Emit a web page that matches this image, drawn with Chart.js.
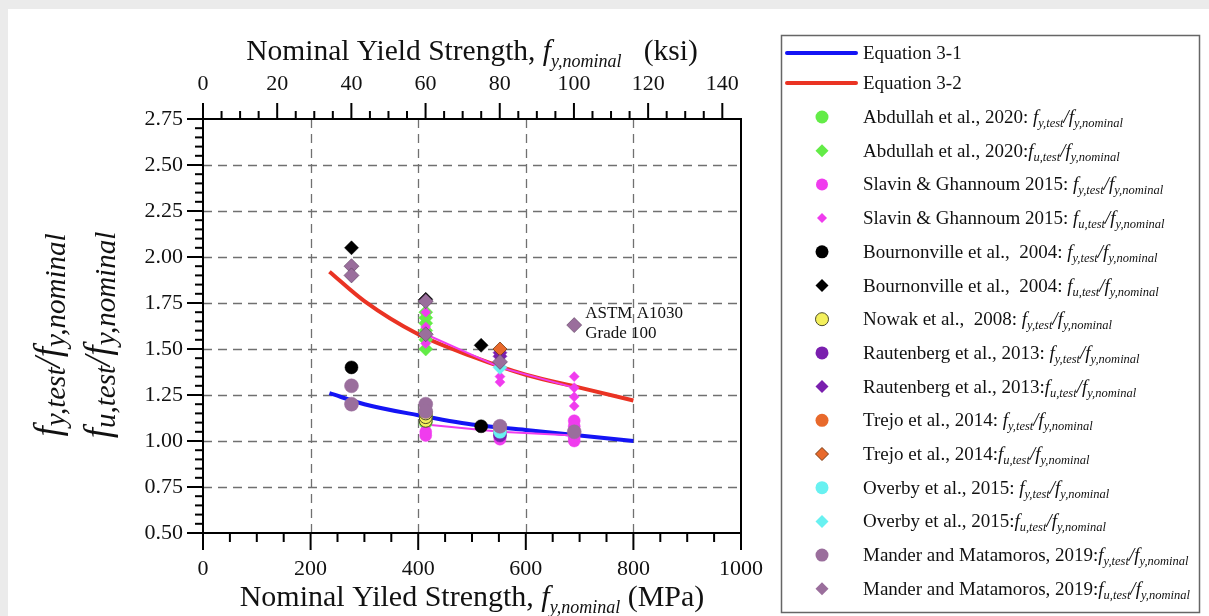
<!DOCTYPE html>
<html><head><meta charset="utf-8">
<script src="https://cdn.jsdelivr.net/npm/chart.js@4/dist/chart.umd.min.js"></script>
<style>html,body{margin:0;padding:0;background:#fff;overflow:hidden}#wrap{position:relative;width:1209px;height:616px}</style>
</head><body><div id="wrap"><canvas id="c" width="1209" height="616"></canvas></div>
<script>
// ---------- data ----------
const eqX   = [235, 300, 400, 500, 600, 700, 800];
const eq31  = [1.26, 1.20, 1.14, 1.09, 1.06, 1.03, 1.00];
const eq32  = [1.92, 1.76, 1.58, 1.46, 1.36, 1.29, 1.22];

const abdullahFyX = [414, 414, 414];
const abdullahFyY = [1.10, 1.13, 1.16];
const abdullahFuX = [414, 414, 414, 414, 414, 414];
const abdullahFuY = [1.50, 1.55, 1.60, 1.64, 1.67, 1.70];

const slavinFyX = [414, 414, 552, 552, 690, 690, 690, 690];
const slavinFyY = [1.03, 1.05, 1.01, 1.02, 1.11, 1.08, 1.02, 1.00];
const slavinFuX = [414, 414, 414, 552, 552, 552, 690, 690, 690, 690];
const slavinFuY = [1.53, 1.62, 1.70, 1.40, 1.35, 1.32, 1.35, 1.29, 1.24, 1.19];
const slavinTrendX  = [414, 552, 690];
const slavinFyTrend = [1.09, 1.05, 1.03];
const slavinFuTrend = [1.58, 1.40, 1.29];

const bournFyX = [276, 517];
const bournFyY = [1.40, 1.08];
const bournFuX = [276, 517, 414];
const bournFuY = [2.05, 1.52, 1.77];

const nowakFyX = [414, 414, 414];
const nowakFyY = [1.11, 1.13, 1.15];

const rautFyX = [552, 552];
const rautFyY = [1.03, 1.04];
const rautFuX = [552, 552];
const rautFuY = [1.48, 1.46];

const trejoFyX = [552];
const trejoFyY = [1.06];
const trejoFuX = [552];
const trejoFuY = [1.50];

const overbyFyX = [552];
const overbyFyY = [1.05];
const overbyFuX = [552];
const overbyFuY = [1.40];

const manderFyX = [276, 276, 414, 414, 552, 690];
const manderFyY = [1.30, 1.20, 1.20, 1.16, 1.08, 1.05];
const manderFuX = [276, 276, 414, 414, 552, 690];
const manderFuY = [1.95, 1.90, 1.76, 1.58, 1.43, 1.63];

const mpaTicks = [0, 200, 400, 600, 800, 1000];
const ksiTicks = [0, 20, 40, 60, 80, 100, 120, 140];
const ratioTicks = [0.50, 0.75, 1.00, 1.25, 1.50, 1.75, 2.00, 2.25, 2.50, 2.75];
const MPA_PER_KSI = 6.89476;

// ---------- helpers ----------
const SERIF = '"Liberation Serif","Times New Roman",serif';
const zip = (xs, ys) => xs.map((x, i) => ({x: x, y: ys[i]}));

function pts(label, sub, xs, ys, color, style, r, idx, opts) {
  return Object.assign({
    label: label, legendName: label, legendSub: sub,
    data: zip(xs, ys), backgroundColor: color, borderColor: color,
    pointStyle: style, pointRadius: r, pointHoverRadius: r, borderWidth: 0.5,
    showLine: false, order: -idx
  }, opts || {});
}

const GREEN = '#63ec47', MAG = '#f03cee', BLACK = '#000000', YEL = '#f4f05c',
      PURP = '#7a1fae', ORNG = '#e8692b', CYAN = '#68f1f1', MAND = '#9a6e9c';

const datasets = [
  {label: 'Equation 3-1', legendName: 'Equation 3-1', legendLine: true, data: zip(eqX, eq31), showLine: true,
   borderColor: '#1414f5', backgroundColor: '#1414f5', borderWidth: 4, pointRadius: 0, cubicInterpolationMode: 'monotone', order: 100},
  {label: 'Equation 3-2', legendName: 'Equation 3-2', legendLine: true, data: zip(eqX, eq32), showLine: true,
   borderColor: '#ea3323', backgroundColor: '#ea3323', borderWidth: 4, pointRadius: 0, cubicInterpolationMode: 'monotone', order: 100},
  {label: 'Slavin trend fy', noLegend: true, data: zip(slavinTrendX, slavinFyTrend), showLine: true,
   borderColor: MAG, borderWidth: 2, pointRadius: 0, order: 60},
  {label: 'Slavin trend fu', noLegend: true, data: zip(slavinTrendX, slavinFuTrend), showLine: true,
   borderColor: MAG, borderWidth: 2, pointRadius: 0, order: 60},
  pts('Abdullah et al., 2020: ', 'y', abdullahFyX, abdullahFyY, GREEN, 'circle', 6.5, 1),
  pts('Abdullah et al., 2020:', 'u', abdullahFuX, abdullahFuY, GREEN, 'rectRot', 7, 2),
  pts('Slavin & Ghannoum 2015: ', 'y', slavinFyX, slavinFyY, MAG, 'circle', 6, 3),
  pts('Slavin & Ghannoum 2015: ', 'u', slavinFuX, slavinFuY, MAG, 'rectRot', 5, 4),
  pts('Bournonville et al.,  2004: ', 'y', bournFyX, bournFyY, BLACK, 'circle', 6.5, 5),
  pts('Bournonville et al.,  2004: ', 'u', bournFuX, bournFuY, BLACK, 'rectRot', 7, 6),
  pts('Nowak et al.,  2008: ', 'y', nowakFyX, nowakFyY, YEL, 'circle', 6.5, 7, {borderColor: '#4a4a2a', borderWidth: 1}),
  pts('Rautenberg et al., 2013: ', 'y', rautFyX, rautFyY, PURP, 'circle', 6.5, 8),
  pts('Rautenberg et al., 2013:', 'u', rautFuX, rautFuY, PURP, 'rectRot', 7, 9),
  pts('Trejo et al., 2014: ', 'y', trejoFyX, trejoFyY, ORNG, 'circle', 6.5, 10),
  pts('Trejo et al., 2014:', 'u', trejoFuX, trejoFuY, ORNG, 'rectRot', 7, 11, {borderColor: '#7a3a10', borderWidth: 0.8}),
  pts('Overby et al., 2015: ', 'y', overbyFyX, overbyFyY, CYAN, 'circle', 6.5, 12),
  pts('Overby et al., 2015:', 'u', overbyFuX, overbyFuY, CYAN, 'rectRot', 7, 13),
  pts('Mander and Matamoros, 2019:', 'y', manderFyX, manderFyY, MAND, 'circle', 7, 14),
  pts('Mander and Matamoros, 2019:', 'u', manderFuX, manderFuY, MAND, 'rectRot', 7.5, 15, {borderColor: '#5d3f60', borderWidth: 0.6})
];

function rich(ctx, segs, x, y, align) {
  let w = 0;
  segs.forEach(s => { ctx.font = s.f; s.w = ctx.measureText(s.t).width; w += s.w; });
  let cx = align === 'center' ? x - w / 2 : x;
  segs.forEach(s => { ctx.font = s.f; ctx.fillText(s.t, cx, y + (s.dy || 0)); cx += s.w; });
  return w;
}

function marker(ctx, style, x, y, r, fill, stroke, bw) {
  ctx.beginPath();
  if (style === 'circle') ctx.arc(x, y, r, 0, Math.PI * 2);
  else { ctx.moveTo(x, y - r); ctx.lineTo(x + r, y); ctx.lineTo(x, y + r); ctx.lineTo(x - r, y); ctx.closePath(); }
  ctx.fillStyle = fill; ctx.fill();
  if (bw) { ctx.lineWidth = bw; ctx.strokeStyle = stroke; ctx.stroke(); }
}

const decor = {
  id: 'decor',
  beforeDraw(chart) {
    const ctx = chart.ctx;
    ctx.save();
    ctx.fillStyle = '#ebebeb'; ctx.fillRect(0, 0, chart.width, chart.height);
    ctx.fillStyle = '#ffffff'; ctx.fillRect(8, 9, chart.width - 8, chart.height - 9);
    ctx.restore();
  },
  beforeDatasetsDraw(chart) {
    const ctx = chart.ctx, a = chart.chartArea, xs = chart.scales.x, ys = chart.scales.y;
    ctx.save();
    ctx.strokeStyle = '#707070'; ctx.lineWidth = 1.3; ctx.setLineDash([9, 6]);
    mpaTicks.slice(1, -1).forEach(v => {
      const px = Math.round(xs.getPixelForValue(v)) + 0.5;
      ctx.beginPath(); ctx.moveTo(px, a.top); ctx.lineTo(px, a.bottom); ctx.stroke();
    });
    ratioTicks.slice(1, -1).forEach(v => {
      const py = Math.round(ys.getPixelForValue(v)) + 0.5;
      ctx.beginPath(); ctx.moveTo(a.left, py); ctx.lineTo(a.right, py); ctx.stroke();
    });
    ctx.restore();
  },
  afterDatasetsDraw(chart) {
    const ctx = chart.ctx, a = chart.chartArea, xs = chart.scales.x, ys = chart.scales.y, x2 = chart.scales.x2;
    ctx.save();
    ctx.strokeStyle = '#000'; ctx.lineWidth = 2; ctx.setLineDash([]);
    // ticks (outward)
    for (let i = 0; i <= 45; i++) {
      const v = 0.5 + i * 0.05, py = ys.getPixelForValue(v), len = (i % 5 === 0) ? 16 : 8;
      ctx.beginPath(); ctx.moveTo(a.left, py); ctx.lineTo(a.left - len, py); ctx.stroke();
    }
    for (let i = 0; i <= 20; i++) {
      const v = i * 50, px = xs.getPixelForValue(v), len = (i % 4 === 0) ? 17 : 9;
      ctx.beginPath(); ctx.moveTo(px, a.bottom); ctx.lineTo(px, a.bottom + len); ctx.stroke();
    }
    for (let i = 0; i <= 28; i++) {
      const v = i * 5, px = x2.getPixelForValue(v), len = (i % 4 === 0) ? 16 : 8;
      ctx.beginPath(); ctx.moveTo(px, a.top); ctx.lineTo(px, a.top - len); ctx.stroke();
    }
    ctx.strokeRect(a.left, a.top, a.right - a.left, a.bottom - a.top);

    // axis titles
    ctx.fillStyle = '#111'; ctx.textBaseline = 'alphabetic';
    const cx = (a.left + a.right) / 2;
    rich(ctx, [
      {t: 'Nominal Yield Strength, ', f: '29.5px ' + SERIF},
      {t: 'f', f: 'italic 29.5px ' + SERIF},
      {t: 'y,nominal', f: 'italic 18px ' + SERIF, dy: 7},
      {t: '   (ksi)', f: '29.5px ' + SERIF}], cx, 60, 'center');
    rich(ctx, [
      {t: 'Nominal Yiled Strength, ', f: '30px ' + SERIF},
      {t: 'f', f: 'italic 30px ' + SERIF},
      {t: 'y,nominal', f: 'italic 18px ' + SERIF, dy: 7},
      {t: ' (MPa)', f: '30px ' + SERIF}], cx, 606, 'center');
    const yc = 335;
    [[60, 'y'], [110, 'u']].forEach(([bx, s]) => {
      ctx.save(); ctx.translate(bx, yc); ctx.rotate(-Math.PI / 2);
      rich(ctx, [
        {t: 'f', f: 'italic 37px ' + SERIF},
        {t: s + ',test', f: 'italic 29px ' + SERIF, dy: 5},
        {t: '/', f: 'italic 37px ' + SERIF},
        {t: 'f', f: 'italic 37px ' + SERIF},
        {t: 'y,nominal', f: 'italic 29px ' + SERIF, dy: 5}], 0, 0, 'center');
      ctx.restore();
    });

    // annotation
    const ax = xs.getPixelForValue(690) + 11, ay = ys.getPixelForValue(1.63);
    ctx.font = '17px ' + SERIF; ctx.fillStyle = '#111';
    ctx.fillText('ASTM A1030', ax, ay - 7);
    ctx.fillText('Grade 100', ax, ay + 13);

    // legend
    ctx.strokeStyle = '#666'; ctx.lineWidth = 1.5;
    ctx.strokeRect(781.5, 35.5, 418, 577);
    let k = 0;
    chart.data.datasets.forEach(ds => {
      if (ds.noLegend) return;
      const ry = k < 2 ? 53 + k * 30 : 117 + (k - 2) * 33.7;
      if (ds.legendLine) {
        ctx.strokeStyle = ds.borderColor; ctx.lineWidth = 4; ctx.lineCap = 'round';
        ctx.beginPath(); ctx.moveTo(787, ry); ctx.lineTo(856, ry); ctx.stroke();
        ctx.lineCap = 'butt';
      } else {
        const r = Math.min(ds.pointRadius, 6.5);
        marker(ctx, ds.pointStyle, 822, ry, r, ds.backgroundColor, ds.borderColor, ds.borderWidth > 0.7 ? 1 : 0);
      }
      ctx.fillStyle = '#111';
      const segs = [{t: ds.legendName, f: '19px ' + SERIF}];
      if (ds.legendSub) {
        segs.push({t: 'f', f: 'italic 19px ' + SERIF},
                  {t: ds.legendSub + ',test', f: 'italic 12.5px ' + SERIF, dy: 4},
                  {t: '/', f: 'italic 19px ' + SERIF},
                  {t: 'f', f: 'italic 19px ' + SERIF},
                  {t: 'y,nominal', f: 'italic 12.5px ' + SERIF, dy: 4});
      }
      rich(ctx, segs, 863, ry + 6, 'left');
      k++;
    });
    ctx.restore();
  }
};

new Chart(document.getElementById('c'), {
  type: 'scatter',
  data: {datasets: datasets},
  options: {
    responsive: false, animation: false, events: [], devicePixelRatio: 1,
    layout: {padding: {left: 0, right: 468, top: 0, bottom: 0}},
    plugins: {legend: {display: false}, tooltip: {enabled: false}},
    scales: {
      x: {
        type: 'linear', position: 'bottom', min: 0, max: 1000,
        afterBuildTicks: s => { s.ticks = mpaTicks.map(v => ({value: v})); },
        afterFit: s => { s.height = 83; },
        grid: {display: false, drawTicks: false}, border: {display: false},
        ticks: {padding: 23, color: '#111', font: {family: SERIF, size: 22}, maxRotation: 0, callback: v => String(v)}
      },
      x2: {
        type: 'linear', position: 'top', axis: 'x', min: 0, max: 1000 / MPA_PER_KSI,
        afterBuildTicks: s => { s.ticks = ksiTicks.map(v => ({value: v})); },
        afterFit: s => { s.height = 119; },
        grid: {display: false, drawTicks: false}, border: {display: false},
        ticks: {padding: 22, color: '#111', font: {family: SERIF, size: 22}, maxRotation: 0, callback: v => String(v)}
      },
      y: {
        type: 'linear', position: 'left', min: 0.5, max: 2.75,
        afterBuildTicks: s => { s.ticks = ratioTicks.map(v => ({value: v})); },
        afterFit: s => { s.width = 203; },
        grid: {display: false, drawTicks: false}, border: {display: false},
        ticks: {padding: 20, color: '#111', font: {family: SERIF, size: 22}, callback: v => Number(v).toFixed(2)}
      }
    }
  },
  plugins: [decor]
});
</script></body></html>
